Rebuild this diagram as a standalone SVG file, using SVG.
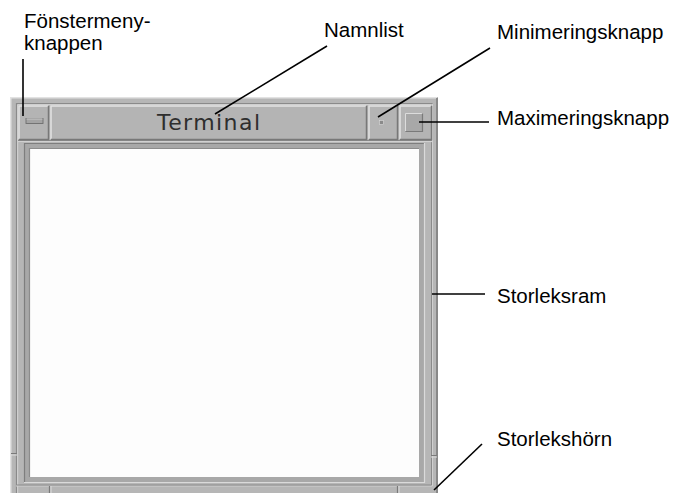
<svg xmlns="http://www.w3.org/2000/svg" width="674" height="493" viewBox="0 0 674 493">
<style>
.lbl{font-family:"Liberation Sans",Arial,sans-serif;font-size:20.5px;fill:#000}
.lead{stroke:#000;stroke-width:1.6;fill:none}
.hi{stroke:#e2e2e2;stroke-width:1.5;fill:none}
.sh{stroke:#787878;stroke-width:1.5;fill:none}
.btn{fill:#b4b4b4}
</style>
<rect width="674" height="493" fill="#fff"/>
<g id="window">
  <rect x="10" y="97" width="428" height="396" fill="#b6b6b6"/>
  <path class="hi" d="M10.75 493 V97.75 H437"/>
  <path class="sh" d="M437 98 V493" stroke-width="2"/>
  <path d="M16.5 493 V103.5 H432.5" stroke="#8a8a8a" stroke-width="1.2" fill="none"/>
  <path d="M17.7 493 V104.7 H431.5" stroke="#d6d6d6" stroke-width="1" fill="none"/>
  <path d="M432.5 104 V486 H16" stroke="#d0d0d0" stroke-width="1" fill="none"/>
  <path d="M431.5 105 V485 H17" stroke="#8a8a8a" stroke-width="1" fill="none"/>
  <path d="M11 453.5 H17 M49.5 486 V493 M431 455.5 H437 M397.5 486 V493" stroke="#7a7a7a" stroke-width="1.2"/>
  <path d="M11 455 H17 M51 486 V493 M431 457 H437 M399 486 V493" stroke="#dcdcdc" stroke-width="1"/>
  <rect x="24" y="143" width="401" height="340" fill="#a8a8a8"/>
  <path d="M24.5 483 V143.5 H425" stroke="#7e7e7e" stroke-width="1.2" fill="none"/>
  <path d="M424.5 143 V482.5 H24" stroke="#dadada" stroke-width="1.2" fill="none"/>
  <rect x="30" y="149" width="389" height="328" fill="#fdfdfd"/>
  <path d="M29.5 477 V148.5 H419" stroke="#8c8c8c" stroke-width="1.2" fill="none"/>
</g>
<g id="titlebar">
  <rect x="18" y="105" width="414" height="35" fill="#b4b4b4"/>
  <path d="M18 140.5 H432" stroke="#8a8a8a" stroke-width="1.2"/>
  <path d="M18 141.6 H432" stroke="#d4d4d4" stroke-width="1"/>
</g>
<g id="menu-button">
  <rect class="btn" x="18" y="105" width="31" height="35"/>
  <path class="hi" d="M19 139 V106 H48"/>
  <path class="sh" d="M48.5 106 V139.5 H19"/>
  <rect x="26" y="118.5" width="17" height="5" fill="#a4a4a4" stroke="#6e6e6e" stroke-width="0.9"/>
  <path d="M26.5 118.9 H42.5" stroke="#e0e0e0" stroke-width="0.8"/>
</g>
<g id="title">
  <rect class="btn" x="50" y="105" width="317" height="35"/>
  <path class="hi" d="M51 139 V106 H366"/>
  <path class="sh" d="M366.5 106 V139.5 H51"/>
  <text x="157" y="130" font-family="'DejaVu Sans',sans-serif" font-size="22" fill="#2e2e2e" textLength="103" lengthAdjust="spacing">Terminal</text>
</g>
<g id="minimize-button">
  <rect class="btn" x="368" y="105" width="30" height="35"/>
  <path class="hi" d="M369 139 V106 H397"/>
  <path class="sh" d="M397.5 106 V139.5 H369"/>
  <rect x="379.5" y="120.5" width="4" height="4" fill="#8a8a8a" stroke="#dcdcdc" stroke-width="0.6"/>
</g>
<g id="maximize-button">
  <rect class="btn" x="399" y="105" width="33" height="35"/>
  <path class="hi" d="M400 139 V106 H431"/>
  <path class="sh" d="M431.5 106 V139.5 H400"/>
  <rect x="405.5" y="113.5" width="17" height="18" fill="#a8a8a8"/>
  <path d="M405.5 131 V113.5 H422.5" stroke="#dcdcdc" stroke-width="1" fill="none"/>
  <path d="M422.5 113.5 V131.5 H405.5" stroke="#7a7a7a" stroke-width="1.2" fill="none"/>
</g>
<g id="connectors">
  <path class="lead" d="M23 59 V116"/>
  <path class="lead" d="M215 114 L327 46"/>
  <path class="lead" d="M378 117 L490 48"/>
  <path class="lead" d="M419 122 H489"/>
  <path class="lead" d="M432 294 H485"/>
  <path class="lead" d="M482 444 L434 490"/>
</g>
<g id="labels">
  <text class="lbl" x="24" y="28">Fönstermeny-</text>
  <text class="lbl" x="24" y="50">knappen</text>
  <text class="lbl" x="324" y="37">Namnlist</text>
  <text class="lbl" x="497" y="39">Minimeringsknapp</text>
  <text class="lbl" x="497" y="125">Maximeringsknapp</text>
  <text class="lbl" x="497" y="303">Storleksram</text>
  <text class="lbl" x="497" y="446">Storlekshörn</text>
</g>
</svg>
